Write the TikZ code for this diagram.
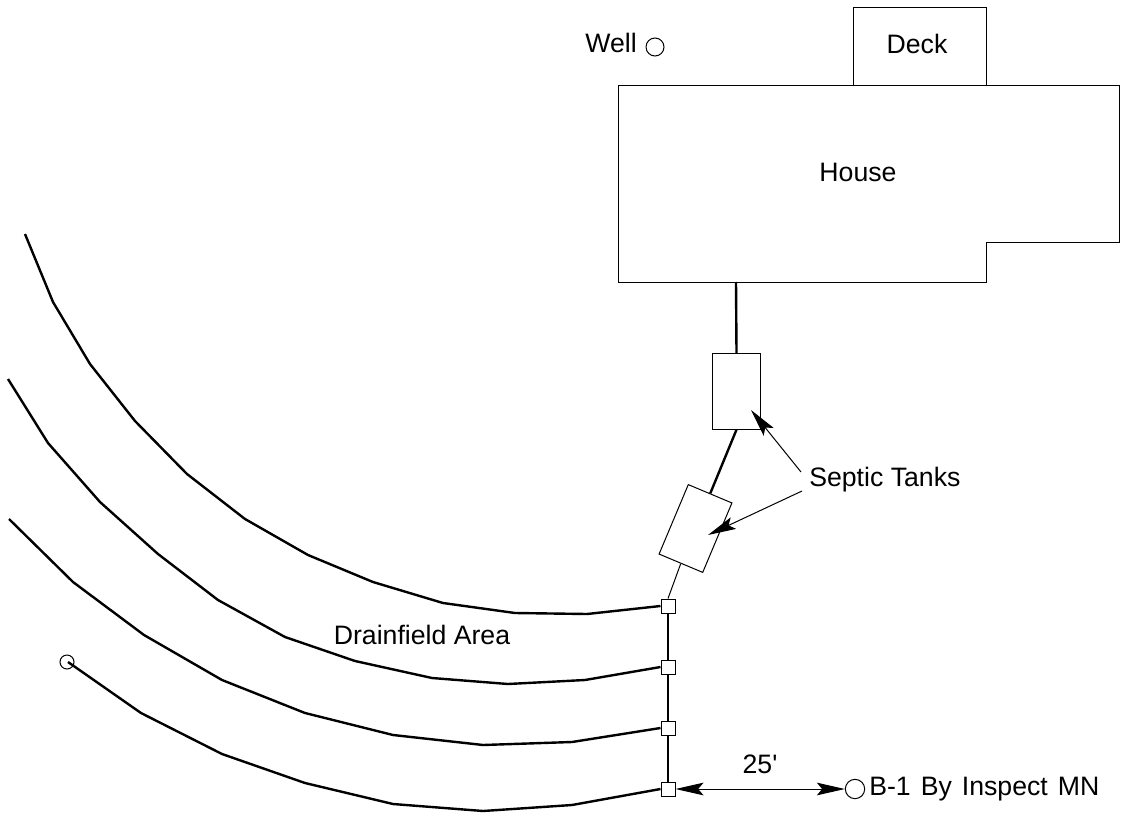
\documentclass[tikz,border=0pt]{standalone}
\usepackage{fontspec}
\setmainfont{Liberation Sans}
\newfontfamily\plainfam{Liberation Sans}
\usetikzlibrary{arrows.meta}
\tikzset{
  thinln/.style={line width=0.75pt,black},
  thickln/.style={line width=1.8pt,black,line join=round},
  label/.style={inner sep=0pt,font=\fontsize{20}{24}\selectfont,text=black},
  joint/.style={draw=black,fill=white,line width=0.75pt,minimum size=10.5pt,inner sep=0pt},
  tank/.style={draw=black,fill=white,line width=0.75pt,minimum width=35.5pt,minimum height=56.5pt,inner sep=0pt},
  ring/.style={draw=black,circle,fill=white,line width=0.75pt,inner sep=0pt},
  kite/.style={-{Stealth[length=21pt,width=9.5pt,inset=4pt]}},
  kites/.style={{Stealth[length=21pt,width=9.5pt,inset=4pt]}-{Stealth[length=21pt,width=9.5pt,inset=4pt]}},
}
\begin{document}
\begin{tikzpicture}[x=0.75pt,y=-0.75pt]
\useasboundingbox (0,0) rectangle (1148,813);
% house and deck
\draw[thinln] (853,86) -- (853,8) -- (986,8) -- (986,86);
\draw[thinln] (618,86) -- (1119,86) -- (1119,242) -- (986,242) -- (986,282) -- (618,282) -- cycle;
\coordinate (houseout) at (736,282);
\node[label] (deck) at (917,44) {Deck};
\node[label] (house) at (858,172) {House};
\node[ring,minimum size=13.5pt] (well) at (655,47) {};
\node[label,anchor=east] (welltxt) at (637,43) {Well};
% tanks
\node[tank] (t1) at (736.5,391.5) {};
\node[tank,rotate=-22.8] (t2) at (695.5,528.5) {};
% joints
\node[joint] (j1) at (668,606) {};
\node[joint] (j2) at (668,667) {};
\node[joint] (j3) at (668,728) {};
\node[joint] (j4) at (668,789) {};
% pipes
\draw[thickln] (houseout) -- (t1.north);
\draw[thickln] (t1.south) -- (t2.north);
\draw[thinln] (t2.south) -- (j1.north);
\draw[thickln] (j1) -- (j2);
\draw[thickln] (j2) -- (j3);
\draw[thickln] (j3) -- (j4);
% drain lines
\draw[thickln] (j1.west) -- (587,614) -- (515,613) -- (443,603) -- (373,582) -- (308,555) -- (245,519) -- (187,474) -- (135,421) -- (90,364) -- (53,302) -- (25,234);
\draw[thickln] (j2.west) -- (585,680) -- (508,684) -- (432,678) -- (355,661) -- (285,637) -- (218,600) -- (158,554) -- (100,502) -- (48,443) -- (8,379);
\draw[thickln] (j3.west) -- (572,742) -- (483,745) -- (393,735) -- (305,713) -- (222,680) -- (144,635) -- (73,582) -- (9,519);
\node[ring,minimum size=10.5pt,fill=none] (end) at (67,662) {};
\coordinate (endc) at (68,662);
\draw[thickln] (j4.west) -- (572,805) -- (483,811) -- (393,804) -- (305,783) -- (222,754) -- (141,713) -- (endc);
% labels
\node[label] (drain) at (422,635) {Drainfield Area};
\node[label,anchor=west] (septic) at (809,480) {Septic Tanks};
\coordinate (s1) at (801,472);
\coordinate (s2) at (802,491);
\coordinate (a1) at (751,410);
\coordinate (a2) at (708,535);
\draw[thinln,kite] (s1) -- (a1);
\draw[thinln,kite] (s2) -- (a2);
% B-1
\node[ring,minimum size=14.5pt] (b1) at (855,789) {};
\node[label,anchor=west] (b1txt) at (869,789) {\spaceskip=7.5pt B-1 By Inspect MN};
\draw[thinln,kites] (j4.east) -- (b1.west);
\node[label,font=\fontsize{20}{24}\selectfont\plainfam] (dim) at (760,764) {25'};
\end{tikzpicture}
\end{document}
